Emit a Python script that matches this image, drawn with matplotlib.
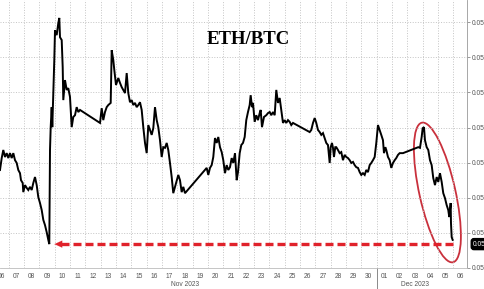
import matplotlib
matplotlib.use("Agg")
import matplotlib.pyplot as plt
import matplotlib.dates as mdates
import matplotlib.transforms as mtransforms
from matplotlib.patches import Ellipse
import numpy as np
import pandas as pd

# ── Data (days after 2023-11-06 00:00, ETH/BTC ratio) ─────────────────────────
days_from_nov6 = [
    0.435, 0.546, 0.650, 0.761, 0.872, 0.977, 1.087, 1.198, 1.303, 1.414,
    1.524, 1.629, 1.740, 1.805, 1.916, 1.955, 2.066, 2.177, 2.281, 2.392,
    2.503, 2.607, 2.718, 2.829, 2.933, 3.044, 3.155, 3.260, 3.371, 3.481,
    3.586, 3.651, 3.697, 3.742, 3.807, 3.846, 3.912, 3.977, 4.023, 4.133,
    4.238, 4.303, 4.349, 4.460, 4.525, 4.564, 4.675, 4.786, 4.890, 5.001,
    5.112, 5.216, 5.327, 5.438, 5.543, 5.654, 6.958, 7.069, 7.173, 7.284,
    7.395, 7.500, 7.656, 7.721, 7.826, 7.891, 8.002, 8.152, 8.263, 8.374,
    8.478, 8.589, 8.700, 8.805, 8.915, 9.026, 9.130, 9.241, 9.352, 9.457,
    9.567, 9.678, 9.783, 9.894, 10.004, 10.109, 10.220, 10.330, 10.435, 10.546,
    10.657, 10.761, 10.872, 10.983, 11.087, 11.198, 11.309, 11.413, 11.524, 11.635,
    11.739, 11.850, 11.961, 12.066, 12.177, 12.287, 12.392, 12.503, 13.808, 13.918,
    14.023, 14.134, 14.244, 14.349, 14.460, 14.571, 14.675, 14.786, 14.897, 15.001,
    15.112, 15.223, 15.327, 15.438, 15.549, 15.654, 15.765, 15.875, 15.960, 16.071,
    16.175, 16.286, 16.397, 16.501, 16.612, 16.723, 16.788, 16.873, 16.938, 17.049,
    17.154, 17.265, 17.375, 17.441, 17.526, 17.656, 17.806, 17.917, 18.028, 18.132,
    18.243, 18.354, 18.459, 18.569, 18.680, 18.785, 18.896, 19.006, 19.111, 19.222,
    19.333, 19.437, 19.548, 20.637, 20.742, 20.853, 20.964, 21.068, 21.179, 21.290,
    21.394, 21.505, 21.616, 21.720, 21.831, 21.942, 22.007, 22.092, 22.157, 22.222,
    22.307, 22.372, 22.483, 22.594, 22.698, 22.809, 22.920, 23.025, 23.135, 23.246,
    23.351, 23.462, 23.572, 23.677, 23.788, 23.899, 24.003, 24.114, 24.225, 24.329,
    24.440, 24.551, 24.655, 24.766, 24.877, 24.982, 25.092, 25.203, 25.307, 25.418,
    25.484, 25.568, 25.634, 25.745, 25.855, 25.960, 26.071, 26.182, 26.286, 26.397,
    26.508, 26.612, 26.723, 27.722, 27.832, 27.943, 28.008, 28.093, 28.158, 28.269,
    28.374, 28.485, 28.595, 28.700, 28.811, 28.922, 29.026, 29.137, 29.248, 29.352,
    29.463, 29.574, 29.678, 29.744, 29.835, 29.855, 29.900, 29.965,
]
eth_btc = [
    0.05379, 0.05413, 0.05436, 0.05416, 0.05427, 0.05413, 0.05427, 0.05413, 0.05427, 0.05407,
    0.05399, 0.05379, 0.05370, 0.05350, 0.05342, 0.05316, 0.05336, 0.05328, 0.05322, 0.05331,
    0.05322, 0.05342, 0.05359, 0.05336, 0.05302, 0.05285, 0.05265, 0.05237, 0.05222, 0.05202,
    0.05180, 0.05168, 0.05436, 0.05501, 0.05558, 0.05501, 0.05598, 0.05692, 0.05777, 0.05763,
    0.05797, 0.05812, 0.05757, 0.05749, 0.05672, 0.05578, 0.05635, 0.05607, 0.05612, 0.05587,
    0.05501, 0.05530, 0.05535, 0.05558, 0.05544, 0.05550, 0.05513, 0.05555, 0.05521, 0.05544,
    0.05558, 0.05564, 0.05570, 0.05720, 0.05692, 0.05664, 0.05621, 0.05641, 0.05627, 0.05615,
    0.05607, 0.05598, 0.05655, 0.05598, 0.05572, 0.05578, 0.05564, 0.05570, 0.05558, 0.05564,
    0.05572, 0.05550, 0.05501, 0.05456, 0.05427, 0.05507, 0.05493, 0.05479, 0.05498, 0.05558,
    0.05521, 0.05501, 0.05464, 0.05416, 0.05444, 0.05442, 0.05456, 0.05436, 0.05399, 0.05359,
    0.05313, 0.05331, 0.05350, 0.05365, 0.05350, 0.05316, 0.05331, 0.05313, 0.05379, 0.05385,
    0.05365, 0.05385, 0.05393, 0.05416, 0.05470, 0.05456, 0.05473, 0.05444, 0.05430, 0.05407,
    0.05370, 0.05393, 0.05379, 0.05387, 0.05413, 0.05399, 0.05427, 0.05350, 0.05373, 0.05427,
    0.05450, 0.05456, 0.05473, 0.05521, 0.05544, 0.05564, 0.05592, 0.05558, 0.05570, 0.05516,
    0.05535, 0.05521, 0.05541, 0.05550, 0.05501, 0.05530, 0.05535, 0.05541, 0.05544, 0.05535,
    0.05544, 0.05535, 0.05607, 0.05570, 0.05584, 0.05550, 0.05513, 0.05521, 0.05513, 0.05521,
    0.05516, 0.05507, 0.05513, 0.05487, 0.05493, 0.05513, 0.05527, 0.05513, 0.05493, 0.05487,
    0.05479, 0.05484, 0.05470, 0.05456, 0.05450, 0.05399, 0.05444, 0.05456, 0.05442, 0.05416,
    0.05444, 0.05444, 0.05436, 0.05427, 0.05430, 0.05407, 0.05422, 0.05416, 0.05413, 0.05407,
    0.05399, 0.05402, 0.05393, 0.05387, 0.05385, 0.05373, 0.05365, 0.05370, 0.05365, 0.05379,
    0.05373, 0.05393, 0.05399, 0.05407, 0.05416, 0.05456, 0.05507, 0.05493, 0.05479, 0.05464,
    0.05427, 0.05444, 0.05436, 0.05416, 0.05407, 0.05385, 0.05399, 0.05407, 0.05413, 0.05422,
    0.05427, 0.05427, 0.05427, 0.05444, 0.05442, 0.05473, 0.05498, 0.05501, 0.05464, 0.05444,
    0.05436, 0.05407, 0.05393, 0.05356, 0.05336, 0.05359, 0.05345, 0.05370, 0.05345, 0.05313,
    0.05299, 0.05279, 0.05265, 0.05245, 0.05285, 0.05228, 0.05188, 0.05180,
]
y_ticks = [0.051, 0.052, 0.053, 0.054, 0.055, 0.056, 0.057, 0.058]
month_labels = ["Nov 2023", "Dec 2023"]

START = pd.Timestamp("2023-11-06")
t = START + pd.to_timedelta(days_from_nov6, unit="D")
v = np.array(eth_btc)

RED = "#e0222b"
GRID = "#c4c4c4"
TICKC = "#555555"
plt.rcParams["font.family"] = ["Liberation Sans", "DejaVu Sans"]

# ── Figure ───────────────────────────────────────────────────────────────────
fig = plt.figure(figsize=(4.85, 2.89), dpi=100)
ax = fig.add_axes([0, 21 / 289, 467 / 485, 268 / 289])

ax.plot(t, v, color="black", lw=1.4, solid_joinstyle="miter", zorder=4)

ax.set_xlim(START + pd.Timedelta(days=0.435), START + pd.Timedelta(days=30.9))
ax.set_ylim(0.051, 0.05863)

# right-hand y axis
ax.yaxis.tick_right()
ax.set_yticks(y_ticks)
ax.yaxis.set_major_formatter(matplotlib.ticker.FormatStrFormatter("%.3f"))
ax.tick_params(axis="y", length=2, width=0.6, color="#888888", pad=1.5,
               labelsize=4.8, labelcolor=TICKC)

# x axis: gridlines at midnight, labels at noon
ax.xaxis.set_major_locator(mdates.DayLocator())
ax.xaxis.set_major_formatter(matplotlib.ticker.NullFormatter())
ax.xaxis.set_minor_locator(mdates.HourLocator(byhour=[12]))
ax.xaxis.set_minor_formatter(mdates.DateFormatter("%d"))
ax.tick_params(axis="x", which="major", length=0)
ax.tick_params(axis="x", which="minor", length=0, pad=3.5,
               labelsize=4.8, labelcolor=TICKC)

ax.grid(True, which="major", color=GRID, ls=":", lw=0.7)
for s in ["top", "left"]:
    ax.spines[s].set_visible(False)
ax.spines["bottom"].set_color("#bbbbbb")
ax.spines["bottom"].set_linewidth(0.6)
ax.spines["right"].set_color("#999999")
ax.spines["right"].set_linewidth(0.6)

# month labels and separator
blend = mtransforms.blended_transform_factory(ax.transData, ax.transAxes)
month_centres = [START + pd.Timedelta(days=12.5), START + pd.Timedelta(days=27.5)]
for mc, lab in zip(month_centres, month_labels):
    ax.text(mc, -0.063, lab, transform=blend, ha="center", va="center",
            fontsize=4.8, color=TICKC)
dec1 = pd.Timestamp("2023-12-01")
ax.plot([dec1, dec1], [0, -0.08], transform=blend, color="#777777",
        lw=0.6, clip_on=False)

# title
ax.text(0.531, 0.851, "ETH/BTC", transform=ax.transAxes, ha="center",
        va="center", fontsize=13.5, fontweight="bold",
        family=["Liberation Serif", "DejaVu Serif"])

# red dashed arrow back to the Nov 9 low
low_idx = int(np.argmin(v[:40]))
low_v = v[low_idx]
ax.plot([t[-1], t[low_idx] + pd.Timedelta(days=0.6)], [low_v, low_v],
        color=RED, lw=2.4, ls=(0, (2.4, 1.2)), zorder=5, solid_capstyle="butt")
ax.annotate("", xy=(t[low_idx] + pd.Timedelta(days=0.15), low_v),
            xytext=(t[low_idx] + pd.Timedelta(days=0.7), low_v),
            arrowprops=dict(arrowstyle="-|>,head_length=0.55,head_width=0.25",
                            color=RED, lw=0.1), zorder=6)

# red ellipse round the December slide
ecx = mdates.date2num(START + pd.Timedelta(days=28.97))
ell = Ellipse((0, 0), width=0.36, height=1.43, angle=12.6, fill=False,
              edgecolor="#c9303c", lw=1.3,
              transform=fig.dpi_scale_trans
              + mtransforms.ScaledTranslation(ecx, 0.05315, ax.transData))
ax.add_patch(ell)

# last value tag
ax.annotate(f"{v[-1]:.4f}", xy=(1.0, low_v), xycoords=("axes fraction", "data"),
            xytext=(4.5, 0), textcoords="offset points", ha="left", va="center",
            fontsize=4.8, color="white", annotation_clip=False,
            bbox=dict(boxstyle="round,pad=0.3,rounding_size=0.4", fc="black",
                      ec="black"))

fig.savefig("out.png", dpi=100)
